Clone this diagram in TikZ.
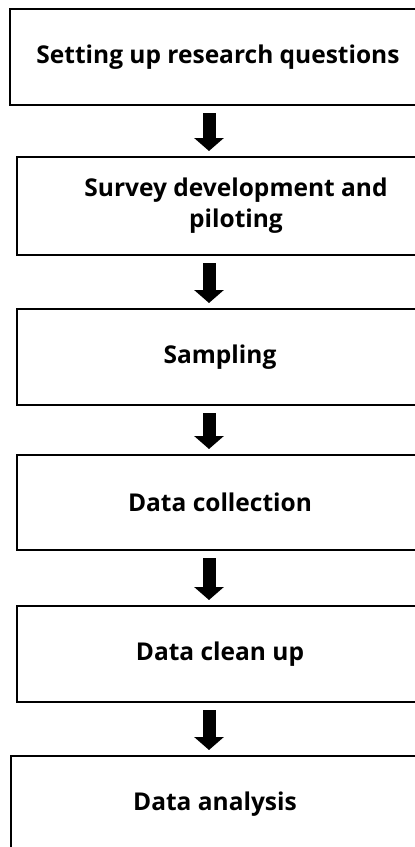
\documentclass[tikz,border=0pt]{standalone}
\usepackage{fontspec}
\setmainfont{Open Sans}
\usetikzlibrary{arrows.meta}
\begin{document}
\begin{tikzpicture}[x=1pt,y=-1pt,
  stepbox/.style={draw=black, line width=1.6pt, fill=white, align=center,
    font=\bfseries\fontsize{24.5}{31}\selectfont, inner sep=0pt, outer sep=0pt},
  bigarrow/.style={draw=black, line width=13pt,
    -{Triangle[width=29pt,length=13pt]}}
]
\useasboundingbox (0,0) rectangle (415,847);
\node[stepbox, minimum width=416pt, minimum height=96pt] (b1) at (218,57) {Setting up research questions};
\node[stepbox, minimum width=438pt, minimum height=98pt] (b2) at (236,206) {Survey development and\\piloting};
\node[stepbox, minimum width=406pt, minimum height=96pt] (b3) at (220,357) {Sampling};
\node[stepbox, minimum width=406pt, minimum height=95pt] (b4) at (220,502.5) {Data collection};
\node[stepbox, minimum width=406pt, minimum height=96pt] (b5) at (220,654) {Data clean up};
\node[stepbox, minimum width=408pt, minimum height=96pt] (b6) at (215,804) {Data analysis};
\coordinate (ax) at (209,0);
\draw[bigarrow, shorten <=8pt, shorten >=6pt] (ax |- b1.south) -- (ax |- b2.north);
\draw[bigarrow, shorten <=8pt, shorten >=6pt] (ax |- b2.south) -- (ax |- b3.north);
\draw[bigarrow, shorten <=8pt, shorten >=6pt] (ax |- b3.south) -- (ax |- b4.north);
\draw[bigarrow, shorten <=8pt, shorten >=6pt] (ax |- b4.south) -- (ax |- b5.north);
\draw[bigarrow, shorten <=8pt, shorten >=6pt] (ax |- b5.south) -- (ax |- b6.north);
\end{tikzpicture}
\end{document}
